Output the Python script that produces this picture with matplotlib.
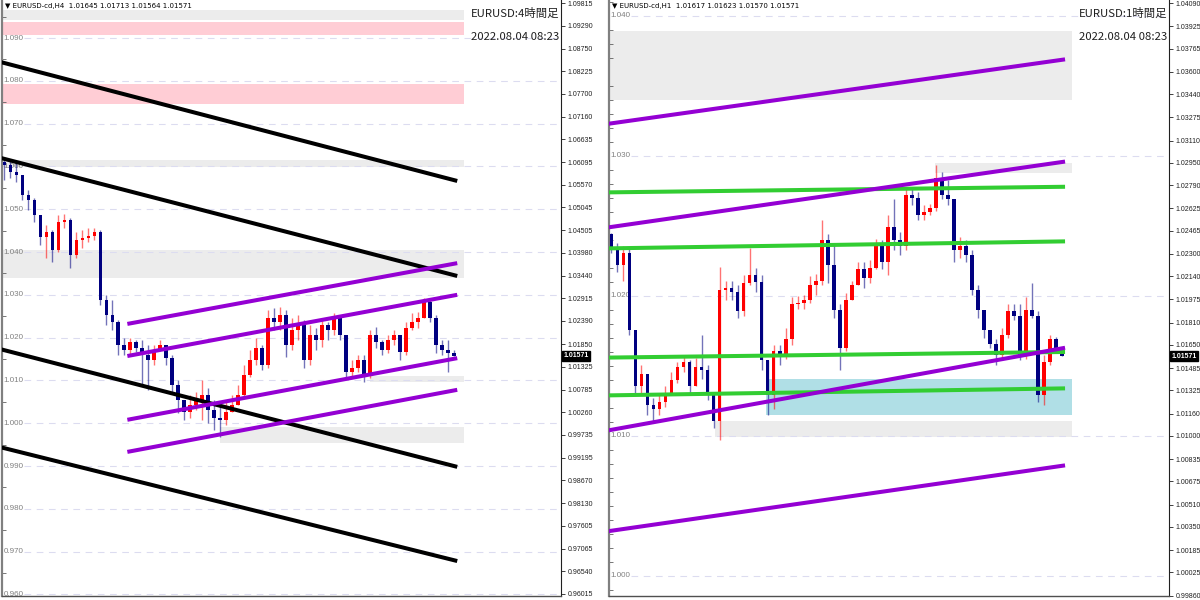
import numpy as np
import matplotlib.pyplot as plt
import matplotlib.transforms as mtransforms
from matplotlib.patches import Rectangle

# ---- EURUSD H4 candles (open of a bar = close of the bar before) ----
h4_open0 = 1.0610
h4_close = [1.0603, 1.0587, 1.0580, 1.0533, 1.0522, 1.0487, 1.0435, 1.0447, 1.0405, 1.0470,
            1.0475, 1.0393, 1.0428, 1.0432, 1.0437, 1.0447, 1.0288, 1.0253, 1.0237, 1.0183,
            1.0171, 1.0190, 1.0176, 1.0159, 1.0148, 1.0171, 1.0183, 1.0152, 1.0089, 1.0054,
            1.0026, 1.0043, 1.0054, 1.0066, 1.0031, 1.0012, 1.0008, 1.0026, 1.0043, 1.0066,
            1.0113, 1.0148, 1.0176, 1.0136, 1.0246, 1.0237, 1.0253, 1.0183, 1.0218, 1.0230,
            1.0148, 1.0206, 1.0194, 1.0230, 1.0218, 1.0246, 1.0206, 1.0120, 1.0129, 1.0148,
            1.0113, 1.0206, 1.0190, 1.0171, 1.0194, 1.0206, 1.0166, 1.0223, 1.0237, 1.0246,
            1.0283, 1.0246, 1.0183, 1.0171, 1.01645, 1.01571]
h4_high = [1.0615, 1.0615, 1.0610, 1.0580, 1.0545, 1.0526, 1.0487, 1.0463, 1.0451, 1.0487,
           1.0489, 1.0480, 1.0447, 1.0451, 1.0456, 1.0456, 1.0451, 1.0300, 1.0288, 1.0241,
           1.0199, 1.0199, 1.0194, 1.0194, 1.0183, 1.0183, 1.0194, 1.0183, 1.0159, 1.0101,
           1.0054, 1.0066, 1.0073, 1.0101, 1.0082, 1.0054, 1.0043, 1.0054, 1.0066, 1.0089,
           1.0136, 1.0171, 1.0199, 1.0183, 1.0265, 1.0269, 1.0272, 1.0265, 1.0246, 1.0253,
           1.0241, 1.0230, 1.0223, 1.0241, 1.0237, 1.0258, 1.0248, 1.0206, 1.0148, 1.0159,
           1.0159, 1.0218, 1.0225, 1.0194, 1.0206, 1.0218, 1.0206, 1.0237, 1.0258, 1.0260,
           1.0293, 1.0288, 1.0253, 1.0194, 1.0194, 1.01713]
h4_low = [1.0568, 1.0573, 1.0564, 1.0522, 1.0498, 1.0470, 1.0416, 1.0386, 1.0377, 1.0400,
          1.0456, 1.0363, 1.0386, 1.0409, 1.0423, 1.0428, 1.0276, 1.0230, 1.0218, 1.0159,
          1.0159, 1.0159, 1.0166, 1.0089, 1.0078, 1.0136, 1.0171, 1.0136, 1.0073, 1.0024,
          1.0008, 1.0012, 1.0031, 1.0008, 1.0001, 0.9984, 0.9968, 0.9996, 1.0026, 1.0043,
          1.0060, 1.0108, 1.0136, 1.0124, 1.0129, 1.0218, 1.0218, 1.0155, 1.0171, 1.0194,
          1.0129, 1.0136, 1.0171, 1.0178, 1.0194, 1.0206, 1.0194, 1.0108, 1.0108, 1.0120,
          1.0096, 1.0106, 1.0176, 1.0159, 1.0165, 1.0183, 1.0148, 1.0159, 1.0218, 1.0223,
          1.0246, 1.0237, 1.0164, 1.0159, 1.0120, 1.01564]

# ---- EURUSD H1 candles ----
h1_open0 = 1.0244
h1_close = [1.0234, 1.0222, 1.0231, 1.0176, 1.0136, 1.0144, 1.0122, 1.0119, 1.0124, 1.0131,
            1.0140, 1.0149, 1.0153, 1.0136, 1.0149, 1.0147, 1.0129, 1.0111, 1.0204, 1.0206,
            1.0203, 1.0189, 1.0209, 1.0215, 1.0210, 1.0154, 1.0129, 1.0161, 1.0158, 1.0169,
            1.0194, 1.0195, 1.0197, 1.0208, 1.0211, 1.0240, 1.0222, 1.0190, 1.0163, 1.0197,
            1.0208, 1.0219, 1.0213, 1.0220, 1.0236, 1.0224, 1.0249, 1.0240, 1.0236, 1.0272,
            1.0270, 1.0258, 1.0260, 1.0263, 1.0284, 1.0272, 1.0269, 1.0233, 1.0236, 1.0229,
            1.0204, 1.0190, 1.0176, 1.0166, 1.0158, 1.0172, 1.0189, 1.0186, 1.0158, 1.0190,
            1.0186, 1.0129, 1.0153, 1.0169, 1.01617, 1.01571]
h1_high = [1.0245, 1.0238, 1.0236, 1.0234, 1.0176, 1.0151, 1.0144, 1.0127, 1.0129, 1.0136,
           1.0146, 1.0153, 1.0158, 1.0154, 1.0156, 1.0172, 1.0151, 1.0129, 1.0221, 1.0211,
           1.0211, 1.0208, 1.0215, 1.0234, 1.0220, 1.0215, 1.0154, 1.0165, 1.0165, 1.0177,
           1.0199, 1.0200, 1.0201, 1.0214, 1.0216, 1.0254, 1.0244, 1.0238, 1.0194, 1.0202,
           1.0211, 1.0224, 1.0224, 1.0226, 1.0241, 1.0240, 1.0258, 1.0269, 1.0246, 1.0277,
           1.0277, 1.0274, 1.0265, 1.0266, 1.02935, 1.02885, 1.0283, 1.0269, 1.0242, 1.0240,
           1.0233, 1.0208, 1.0190, 1.0176, 1.0169, 1.0177, 1.0194, 1.0194, 1.0194, 1.0199,
           1.0209, 1.0189, 1.0158, 1.0172, 1.0171, 1.01623]
h1_low = [1.0231, 1.0217, 1.0211, 1.0172, 1.0129, 1.0131, 1.0115, 1.0109, 1.0115, 1.0121,
          1.0129, 1.0138, 1.0146, 1.0131, 1.0136, 1.0141, 1.0126, 1.0106, 1.0097, 1.0197,
          1.0197, 1.0184, 1.0186, 1.0208, 1.0203, 1.0147, 1.0115, 1.0119, 1.0151, 1.0155,
          1.0165, 1.0191, 1.0191, 1.0195, 1.0201, 1.0208, 1.0209, 1.0184, 1.0147, 1.0161,
          1.0197, 1.0208, 1.0206, 1.0209, 1.0219, 1.0219, 1.0215, 1.0233, 1.0229, 1.0233,
          1.0265, 1.0254, 1.0254, 1.0258, 1.0261, 1.0269, 1.0265, 1.0224, 1.0227, 1.0224,
          1.0201, 1.0184, 1.0170, 1.0163, 1.0151, 1.0156, 1.0170, 1.0183, 1.0154, 1.0155,
          1.0184, 1.0124, 1.0122, 1.0151, 1.0160, 1.01570]

# trend lines: (bar, price) -> (bar, price)
h4_black = [(-0.67, 1.0844, 75.5, 1.0566), (-0.67, 1.0620, 75.5, 1.0344),
            (-0.67, 1.0173, 75.5, 0.9898), (-0.67, 0.9944, 75.5, 0.9678)]
h4_purple = [(20.5, 1.0232, 75.5, 1.0374), (20.5, 1.0157, 75.5, 1.0300),
             (20.5, 1.0008, 75.5, 1.0152), (20.5, 0.9933, 75.5, 1.0078)]
h1_purple = [(-0.5, 1.0323, 75.5, 1.0369), (-0.5, 1.0249, 75.5, 1.0296),
             (-0.5, 1.0104, 75.5, 1.0163), (-0.5, 1.0032, 75.5, 1.0079)]
h1_green = [(-0.5, 1.0274, 75.5, 1.0278), (-0.5, 1.0234, 75.5, 1.0239),
            (-0.5, 1.0156, 75.5, 1.0160), (-0.5, 1.0129, 75.5, 1.0134)]

# zones: bar from, bar to, price low, price high, kind
h4_zones = [(-1, 76.67, 1.0942, 1.0965, 'gray'), (-1, 76.67, 1.0907, 1.0937, 'pink'),
            (-1, 76.67, 1.0746, 1.0793, 'pink'), (-1, 76.67, 1.0599, 1.0615, 'gray'),
            (-1, 76.67, 1.0339, 1.0405, 'gray'), (61, 76.67, 1.0096, 1.0110, 'gray'),
            (36, 76.67, 0.9954, 0.9991, 'gray')]
h1_zones = [(-1, 76.67, 1.0340, 1.0389, 'gray'), (53.8, 76.67, 1.0288, 1.0295, 'gray'),
            (25.8, 76.67, 1.0115, 1.0141, 'cyan'), (17.2, 76.67, 1.0099, 1.0111, 'gray')]

h4_ticks = [1.09815, 1.09290, 1.08750, 1.08225, 1.07700, 1.07160, 1.06635, 1.06095, 1.05570,
            1.05045, 1.04505, 1.03980, 1.03440, 1.02915, 1.02390, 1.01850, 1.01325, 1.00785,
            1.00260, 0.99735, 0.99195, 0.98670, 0.98130, 0.97605, 0.97065, 0.96540, 0.96015]
h1_ticks = [1.04090, 1.03925, 1.03765, 1.03600, 1.03440, 1.03275, 1.03110, 1.02950, 1.02790,
            1.02625, 1.02465, 1.02300, 1.02140, 1.01975, 1.01810, 1.01650, 1.01485, 1.01325,
            1.01160, 1.01000, 1.00835, 1.00675, 1.00510, 1.00350, 1.00185, 1.00025, 0.99860]
h4_levels = [0.960, 0.970, 0.980, 0.990, 1.000, 1.010, 1.020, 1.030, 1.040, 1.050,
             1.060, 1.070, 1.080, 1.090]
h1_levels = [1.000, 1.010, 1.020, 1.030, 1.040]

h4_header = '\u25bc EURUSD-cd,H4  1.01645 1.01713 1.01564 1.01571'
h1_header = '\u25bc EURUSD-cd,H1  1.01617 1.01623 1.01570 1.01571'
h4_title = 'EURUSD:4時間足'
h1_title = 'EURUSD:1時間足'
stamp = '2022.08.04 08:23'
last_price = 1.01571

RED = '#ff0000'
BLUE = '#000080'
ZONE_COL = {'gray': '#ececec', 'pink': '#ffcdd5', 'cyan': '#b0dfe6'}
JP = ['Noto Sans CJK JP', 'DejaVu Sans']
SMALL = 'Liberation Sans'


def draw_candles(ax, open0, close, high, low):
    c = np.array(close)
    o = np.concatenate([[open0], c[:-1]])
    h = np.array(high)
    l = np.array(low)
    x = np.arange(len(c))
    up = c >= o
    for mask, col in ((up, RED), (~up, BLUE)):
        ax.vlines(x[mask], l[mask], h[mask], color=col, lw=1.0, alpha=0.55, zorder=3)
        body = np.maximum(np.abs(c - o), 0.00006)
        ax.bar(x[mask], body[mask], bottom=np.minimum(o, c)[mask], width=0.62,
               color=col, linewidth=0, zorder=3.1)


def draw_panel(ax, ylim, candles, zones, lines, ticks, levels, minor, header, title):
    ax.set_xlim(-0.4, 92.8)
    ax.set_ylim(*ylim)
    trans = mtransforms.blended_transform_factory(ax.transAxes, ax.transData)

    for x0, x1, lo, hi, kind in zones:
        ax.add_patch(Rectangle((x0, lo), x1 - x0, hi - lo, facecolor=ZONE_COL[kind],
                               edgecolor='none', zorder=1))
    for lv in levels:
        ax.axhline(lv, xmin=0.04, color='#dcdcf0', lw=0.8, dashes=(6, 5), zorder=1.5)
        ax.text(0.003, lv, f'{lv:.3f}', transform=trans, va='center', ha='left',
                fontsize=5.8, color='#808080', family=SMALL, zorder=2)

    draw_candles(ax, *candles)

    for segs, col in lines:
        for x0, p0, x1, p1 in segs:
            ax.plot([x0, x1], [p0, p1], color=col, lw=2.9, solid_capstyle='butt', zorder=4)

    ax.yaxis.tick_right()
    ax.set_yticks(ticks)
    ax.set_yticklabels([f'{t:.5f}' for t in ticks], family=SMALL)
    ax.set_yticks(minor, minor=True)
    ax.tick_params(axis='y', which='major', right=True, left=False, labelright=True,
                   labelleft=False, length=3, width=0.6, labelsize=5, pad=1.5, colors='#202020')
    ax.tick_params(axis='y', which='minor', left=True, right=False, direction='in',
                   length=3, width=0.6, colors='#606060')
    ax.set_xticks([])
    ax.spines['top'].set_visible(False)
    ax.spines['left'].set_color('#808080')
    ax.spines['left'].set_linewidth(1.6)
    ax.spines['bottom'].set_color('#505050')
    ax.spines['bottom'].set_linewidth(1.0)
    ax.spines['right'].set_color('#202020')
    ax.spines['right'].set_linewidth(0.8)

    ax.text(0.006, 1 - 6 / 596, header, transform=ax.transAxes, fontsize=5, va='center',
            ha='left', family=['DejaVu Sans'], color='black', zorder=6)
    ax.text(0.997, 1 - 13 / 596, title, transform=ax.transAxes, fontsize=8.2, va='center',
            ha='right', family=JP, color='#202020', zorder=6)
    ax.text(0.997, 1 - 37 / 596, stamp, transform=ax.transAxes, fontsize=8.2, va='center',
            ha='right', family=JP, color='#202020', zorder=6)
    ax.text(1.004, last_price, f'{last_price:.5f}', transform=trans, fontsize=5,
            va='center', ha='left', color='white', family=SMALL, fontweight='bold',
            bbox=dict(facecolor='black', edgecolor='black', pad=1.0), zorder=6,
            clip_on=False)


fig = plt.figure(figsize=(12, 6), dpi=100)
fig.patch.set_facecolor('white')

ax1 = fig.add_axes([2 / 1200, 4 / 600, 559 / 1200, 596 / 600])
draw_panel(ax1, (0.95963, 1.09888), (h4_open0, h4_close, h4_high, h4_low), h4_zones,
           [(h4_black, 'black'), (h4_purple, '#9400d3')], h4_ticks, h4_levels,
           np.arange(0.965, 1.099, 0.01), h4_header, h4_title)

ax2 = fig.add_axes([609 / 1200, 4 / 600, 560 / 1200, 596 / 600])
h1_minor = [m for m in np.arange(0.999, 1.0411, 0.001) if abs(m * 100 - round(m * 100)) > 0.01]
draw_panel(ax2, (0.99857, 1.04114), (h1_open0, h1_close, h1_high, h1_low), h1_zones,
           [(h1_green, '#32cd32'), (h1_purple, '#9400d3')], h1_ticks, h1_levels,
           h1_minor, h1_header, h1_title)

fig.savefig('out.png', dpi=100)
